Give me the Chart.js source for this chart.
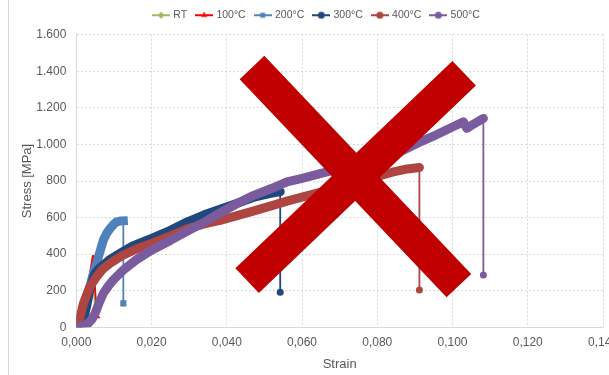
<!DOCTYPE html>
<html>
<head>
<meta charset="utf-8">
<script src="https://cdn.jsdelivr.net/npm/chart.js@4.4.1/dist/chart.umd.min.js"></script>
<style>
  html, body { margin: 0; padding: 0; background: #fff; overflow: hidden; }
  #wrap { position: relative; width: 609px; height: 375px; }
  #frame { position: absolute; left: 8px; top: 0; bottom: 0; border-left: 1px solid #d9d9d9; }
</style>
</head>
<body>
<div id="wrap"><div id="frame"></div><canvas id="stressChart"></canvas></div>
<script>
const seriesNames = ['RT', '100°C', '200°C', '300°C', '400°C', '500°C'];

const strainTicks = [0, 0.02, 0.04, 0.06, 0.08, 0.10, 0.12, 0.14];
const stressTicks = [0, 200, 400, 600, 800, 1000, 1200, 1400, 1600];

const rtStrain = [0.0012, 0.0020, 0.0030, 0.0040, 0.0045, 0.0050];
const rtStress = [0, 70, 180, 280, 320, 67];

const t100Strain = [0.0012, 0.0020, 0.0028, 0.0036, 0.0044, 0.0055];
const t100Stress = [0, 90, 190, 290, 390, 60];

const t200Strain = [0.0005, 0.0015, 0.0025, 0.0036, 0.0045, 0.0054, 0.0063, 0.0072, 0.0081, 0.0090, 0.0099, 0.0107, 0.0116, 0.0125, 0.0125];
const t200Stress = [20, 80, 150, 222, 290, 350, 415, 477, 515, 541, 562, 577, 581, 582, 131];

const t300Strain = [0.0012, 0.0019, 0.0028, 0.0036, 0.0043, 0.0050, 0.0061, 0.0072, 0.0090, 0.0116, 0.0150, 0.0200, 0.0250, 0.0294, 0.0340, 0.0382, 0.0430, 0.0470, 0.0510, 0.0542, 0.0542];
const t300Stress = [0, 40, 120, 204, 255, 295, 322, 340, 372, 404, 445, 486, 530, 575, 615, 645, 680, 710, 730, 742, 191];

const t400Strain = [0, 0.0008, 0.0019, 0.0036, 0.0054, 0.0070, 0.0090, 0.0120, 0.0160, 0.0200, 0.0250, 0.0294, 0.0340, 0.0382, 0.0430, 0.0470, 0.0520, 0.0560, 0.0600, 0.0648, 0.0700, 0.0750, 0.0800, 0.0840, 0.0880, 0.0912, 0.0912];
const t400Stress = [0, 40, 131, 222, 276, 318, 350, 390, 428, 459, 500, 538, 565, 585, 612, 635, 665, 690, 712, 738, 765, 795, 825, 848, 866, 874, 204];

const t500Strain = [0, 0.0020, 0.0032, 0.0042, 0.0050, 0.0060, 0.0072, 0.0085, 0.0098, 0.0125, 0.0160, 0.0200, 0.0250, 0.0294, 0.0340, 0.0382, 0.0430, 0.0470, 0.0520, 0.0560, 0.0600, 0.0648, 0.0700, 0.0750, 0.0800, 0.0861, 0.0910, 0.0949, 0.1000, 0.1029, 0.1038, 0.1055, 0.1082, 0.1082];
const t500Stress = [0, 8, 22, 45, 76, 130, 186, 225, 258, 313, 370, 422, 475, 525, 575, 625, 680, 720, 760, 795, 815, 840, 868, 895, 925, 960, 1010, 1045, 1095, 1123, 1088, 1110, 1142, 286];

// the big red cross over the plot, in data units: [x1, y1, x2, y2]
const crossArms = [
  [0.0467, 1421, 0.1017, 228],
  [0.1031, 1389, 0.0454, 255],
];

const seriesColors = ['#9BBB59', '#FF0000', '#4F81BD', '#1F497D', '#AE4541', '#7A5C9E'];
const markerStyles = ['rectRot', 'triangle', 'rect', 'circle', 'circle', 'circle'];
const markerSizes = [3, 4, 4.3, 3.5, 3.5, 3.5];
const bandWidths = [2, 2, 9, 9, 9, 9];
const textColor = '#595959';
const gridColor = '#d9d9d9';

Chart.defaults.font.family = "'Liberation Sans', Arial, sans-serif";
Chart.defaults.color = textColor;

function toPoints(strain, stress) {
  return strain.map((x, i) => ({ x, y: stress[i] }));
}

function makeDataset(i, strain, stress) {
  const last = strain.length - 1;
  const width = bandWidths[i];
  return {
    label: seriesNames[i],
    data: toPoints(strain, stress),
    borderColor: seriesColors[i],
    backgroundColor: seriesColors[i],
    borderWidth: width,
    borderCapStyle: i === 2 ? 'square' : 'round',
    borderJoinStyle: 'round',
    tension: 0,
    order: 5 - i,
    pointStyle: markerStyles[i],
    pointRadius: (ctx) => (ctx.dataIndex === last ? markerSizes[i] : 0),
    pointHoverRadius: (ctx) => (ctx.dataIndex === last ? markerSizes[i] : 0),
    pointBorderWidth: 0,
    pointBackgroundColor: seriesColors[i],
    segment: {
      borderWidth: (ctx) => (ctx.p1DataIndex === last ? 1.8 : width),
    },
  };
}

function legendIcon(i) {
  const c = document.createElement('canvas');
  c.width = 18;
  c.height = 10;
  const g = c.getContext('2d');
  g.strokeStyle = seriesColors[i];
  g.fillStyle = seriesColors[i];
  g.lineWidth = 2;
  g.beginPath();
  g.moveTo(0, 5);
  g.lineTo(18, 5);
  g.stroke();
  Chart.helpers.drawPoint(g, { pointStyle: markerStyles[i], radius: 3.5, borderWidth: 0 }, 9, 5);
  return c;
}

const legendIcons = seriesNames.map((n, i) => legendIcon(i));

const crossPlugin = {
  id: 'redCross',
  afterLayout(chart) {
    // excel centres the legend a little to the right
    chart.legend.left += 8;
    chart.legend.right += 8;
  },
  afterDraw(chart) {
    const { ctx, scales } = chart;
    ctx.save();
    ctx.strokeStyle = '#C00000';
    ctx.lineWidth = 34;
    ctx.lineCap = 'butt';
    crossArms.forEach((a) => {
      ctx.beginPath();
      ctx.moveTo(scales.x.getPixelForValue(a[0]), scales.y.getPixelForValue(a[1]));
      ctx.lineTo(scales.x.getPixelForValue(a[2]), scales.y.getPixelForValue(a[3]));
      ctx.stroke();
    });
    ctx.restore();
  },
};

const datasets = [
  makeDataset(0, rtStrain, rtStress),
  makeDataset(1, t100Strain, t100Stress),
  makeDataset(2, t200Strain, t200Stress),
  makeDataset(3, t300Strain, t300Stress),
  makeDataset(4, t400Strain, t400Stress),
  makeDataset(5, t500Strain, t500Stress),
];

new Chart(document.getElementById('stressChart'), {
  type: 'line',
  data: { datasets },
  plugins: [crossPlugin],
  options: {
    responsive: true,
    maintainAspectRatio: false,
    animation: false,
    layout: { padding: { left: 15, right: 6, top: 0, bottom: 0 } },
    plugins: {
      tooltip: { enabled: false },
      legend: {
        position: 'top',
        labels: {
          usePointStyle: true,
          pointStyleWidth: 14,
          padding: 10,
          color: textColor,
          font: { size: 10.5 },
          generateLabels: (chart) => chart.data.datasets.map((ds, i) => ({
            text: ds.label,
            fontColor: textColor,
            pointStyle: legendIcons[i],
            datasetIndex: i,
            hidden: false,
            lineWidth: 0,
            strokeStyle: 'transparent',
            fillStyle: 'transparent',
          })),
        },
      },
    },
    scales: {
      x: {
        type: 'linear',
        position: 'bottom',
        min: 0,
        max: 0.14,
        afterBuildTicks: (s) => { s.ticks = strainTicks.map((v) => ({ value: v })); },
        afterFit: (s) => { s.paddingRight = 0; s.paddingLeft = 0; s.height = 47.7; },
        ticks: {
          autoSkip: false,
          maxRotation: 0,
          padding: 8,
          color: textColor,
          font: { size: 12 },
          callback: (v) => v.toFixed(3).replace('.', ','),
        },
        grid: { color: gridColor, drawTicks: false },
        border: { display: true, color: gridColor, dash: [2, 2] },
        title: {
          display: true,
          text: 'Strain',
          color: textColor,
          font: { size: 13 },
          padding: { top: 4, bottom: 3.2 },
        },
      },
      top: {
        type: 'linear',
        position: 'top',
        afterFit: (s) => { s.height = 4.2; },
        grid: { display: false },
        ticks: { display: false },
        border: { display: false },
      },
      y: {
        type: 'linear',
        min: 0,
        max: 1600,
        afterBuildTicks: (s) => { s.ticks = stressTicks.map((v) => ({ value: v })); },
        afterFit: (s) => { s.width = 61.3; },
        ticks: {
          padding: 10,
          color: textColor,
          font: { size: 12 },
          callback: (v) => String(v).replace(/\B(?=(\d{3})+(?!\d))/g, '.'),
        },
        grid: { color: gridColor, drawTicks: false },
        border: { display: true, color: gridColor, dash: [2, 2] },
        title: {
          display: true,
          text: 'Stress [MPa]',
          color: textColor,
          font: { size: 13 },
          padding: { top: 4.2, bottom: 4 },
        },
      },
    },
  },
});
</script>
</body>
</html>
